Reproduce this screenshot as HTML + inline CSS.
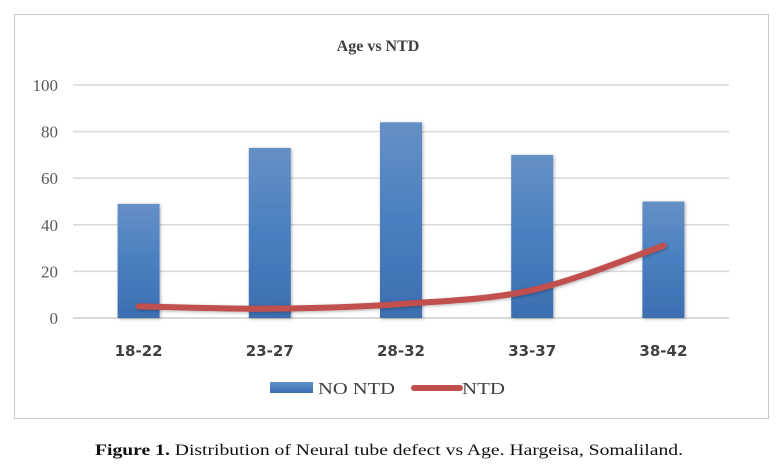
<!DOCTYPE html>
<html><head><meta charset="utf-8">
<style>
html,body{margin:0;padding:0;background:#fff;}
svg{display:block;}
</style></head>
<body>
<svg id="chart" width="779" height="473" viewBox="0 0 779 473" xmlns="http://www.w3.org/2000/svg">
<defs>
<linearGradient id="barGrad" x1="0" y1="0" x2="0" y2="1">
<stop offset="0" stop-color="#6690c6"/>
<stop offset="0.5" stop-color="#4a7fc0"/>
<stop offset="1" stop-color="#3c6eb0"/>
</linearGradient>
<filter id="sh" x="-20%" y="-5%" width="140%" height="115%">
<feDropShadow dx="1" dy="1" stdDeviation="1.5" flood-color="#000" flood-opacity="0.3"/>
</filter>
</defs>
<rect x="14.5" y="14.5" width="754" height="404" fill="#fff" stroke="#c8c8c8"/>
<text x="378" y="51" text-anchor="middle" font-family="'Liberation Serif',serif" font-size="16" font-weight="bold" fill="#404040">Age vs NTD</text>
<g id="grid"></g><g id="yticks"></g><g id="bars"></g><g id="line"></g><g id="xticks"></g>
<rect x="270" y="382" width="43" height="11" fill="url(#barGrad)"/>
<text x="318" y="394" font-family="'Liberation Serif',serif" font-size="17" fill="#404040" textLength="77" lengthAdjust="spacingAndGlyphs">NO NTD</text>
<line x1="414" y1="388" x2="460" y2="388" stroke="#c0504d" stroke-width="6" stroke-linecap="round"/>
<text x="462" y="394" font-family="'Liberation Serif',serif" font-size="17" fill="#404040" textLength="43" lengthAdjust="spacingAndGlyphs">NTD</text>
<text x="95" y="455" font-family="'Liberation Serif',serif" font-size="16" fill="#111" textLength="588" lengthAdjust="spacingAndGlyphs"><tspan font-weight="bold">Figure 1.</tspan> Distribution of Neural tube defect vs Age. Hargeisa, Somaliland.</text>
</svg>
<script>
const categories = ["18-22","23-27","28-32","33-37","38-42"];
const noNtd = [49,73,84,70,50];
const ntd = [5,4,6,12,31];
const yTicks = [0,20,40,60,80,100];

const NS="http://www.w3.org/2000/svg";
const plotL=73, plotR=729, y0=318, y100=85, yMax=100;
const band=(plotR-plotL)/categories.length;
const xC=i=>plotL+band*(i+0.5);
const yS=v=>y0-(v/yMax)*(y0-y100);
function mk(tag,attrs,parent){const e=document.createElementNS(NS,tag);for(const k in attrs)e.setAttribute(k,attrs[k]);parent.appendChild(e);return e;}
const grid=document.getElementById('grid'),yt=document.getElementById('yticks'),bars=document.getElementById('bars'),lineG=document.getElementById('line'),xt=document.getElementById('xticks');
yTicks.forEach(t=>{
  const l=mk('line',{x1:plotL,x2:plotR,y1:yS(t),y2:yS(t),stroke:'#d9d9d9','stroke-width':t===0?2:1.5},grid);
  
  
  const tx=mk('text',{x:58,y:yS(t)+6,'text-anchor':'end','font-family':"'Liberation Serif',serif",'font-size':17,fill:'#595959'},yt);
  tx.textContent=t;
  
  
});
const bw=42;
categories.forEach((c,i)=>{
  const r=mk('rect',{x:xC(i)-bw/2,y:yS(noNtd[i]),width:bw,height:y0-yS(noNtd[i]),fill:'url(#barGrad)',filter:'url(#sh)'},bars);
  
  
  const tx=mk('text',{x:xC(i),y:356,'text-anchor':'middle','font-family':"'DejaVu Sans',sans-serif",'font-size':15,'font-weight':'bold',fill:'#404040'},xt);
  tx.textContent=c;
  
  
});
const pts=ntd.map((v,i)=>[xC(i),yS(v)]);
let d='M'+pts[0][0]+','+pts[0][1];
const k=1/6;
for(let i=0;i<pts.length-1;i++){
  const p0=pts[Math.max(0,i-1)],p1=pts[i],p2=pts[i+1],p3=pts[Math.min(pts.length-1,i+2)];
  const c1=[p1[0]+(p2[0]-p0[0])*k,p1[1]+(p2[1]-p0[1])*k];
  const c2=[p2[0]-(p3[0]-p1[0])*k,p2[1]-(p3[1]-p1[1])*k];
  d+=` C${c1[0]},${c1[1]} ${c2[0]},${c2[1]} ${p2[0]},${p2[1]}`;
}
const pth=mk('path',{d:d,fill:'none',stroke:'#c0504d','stroke-width':6,'stroke-linecap':'round',filter:'url(#sh)'},lineG);


</script>
</body></html>
